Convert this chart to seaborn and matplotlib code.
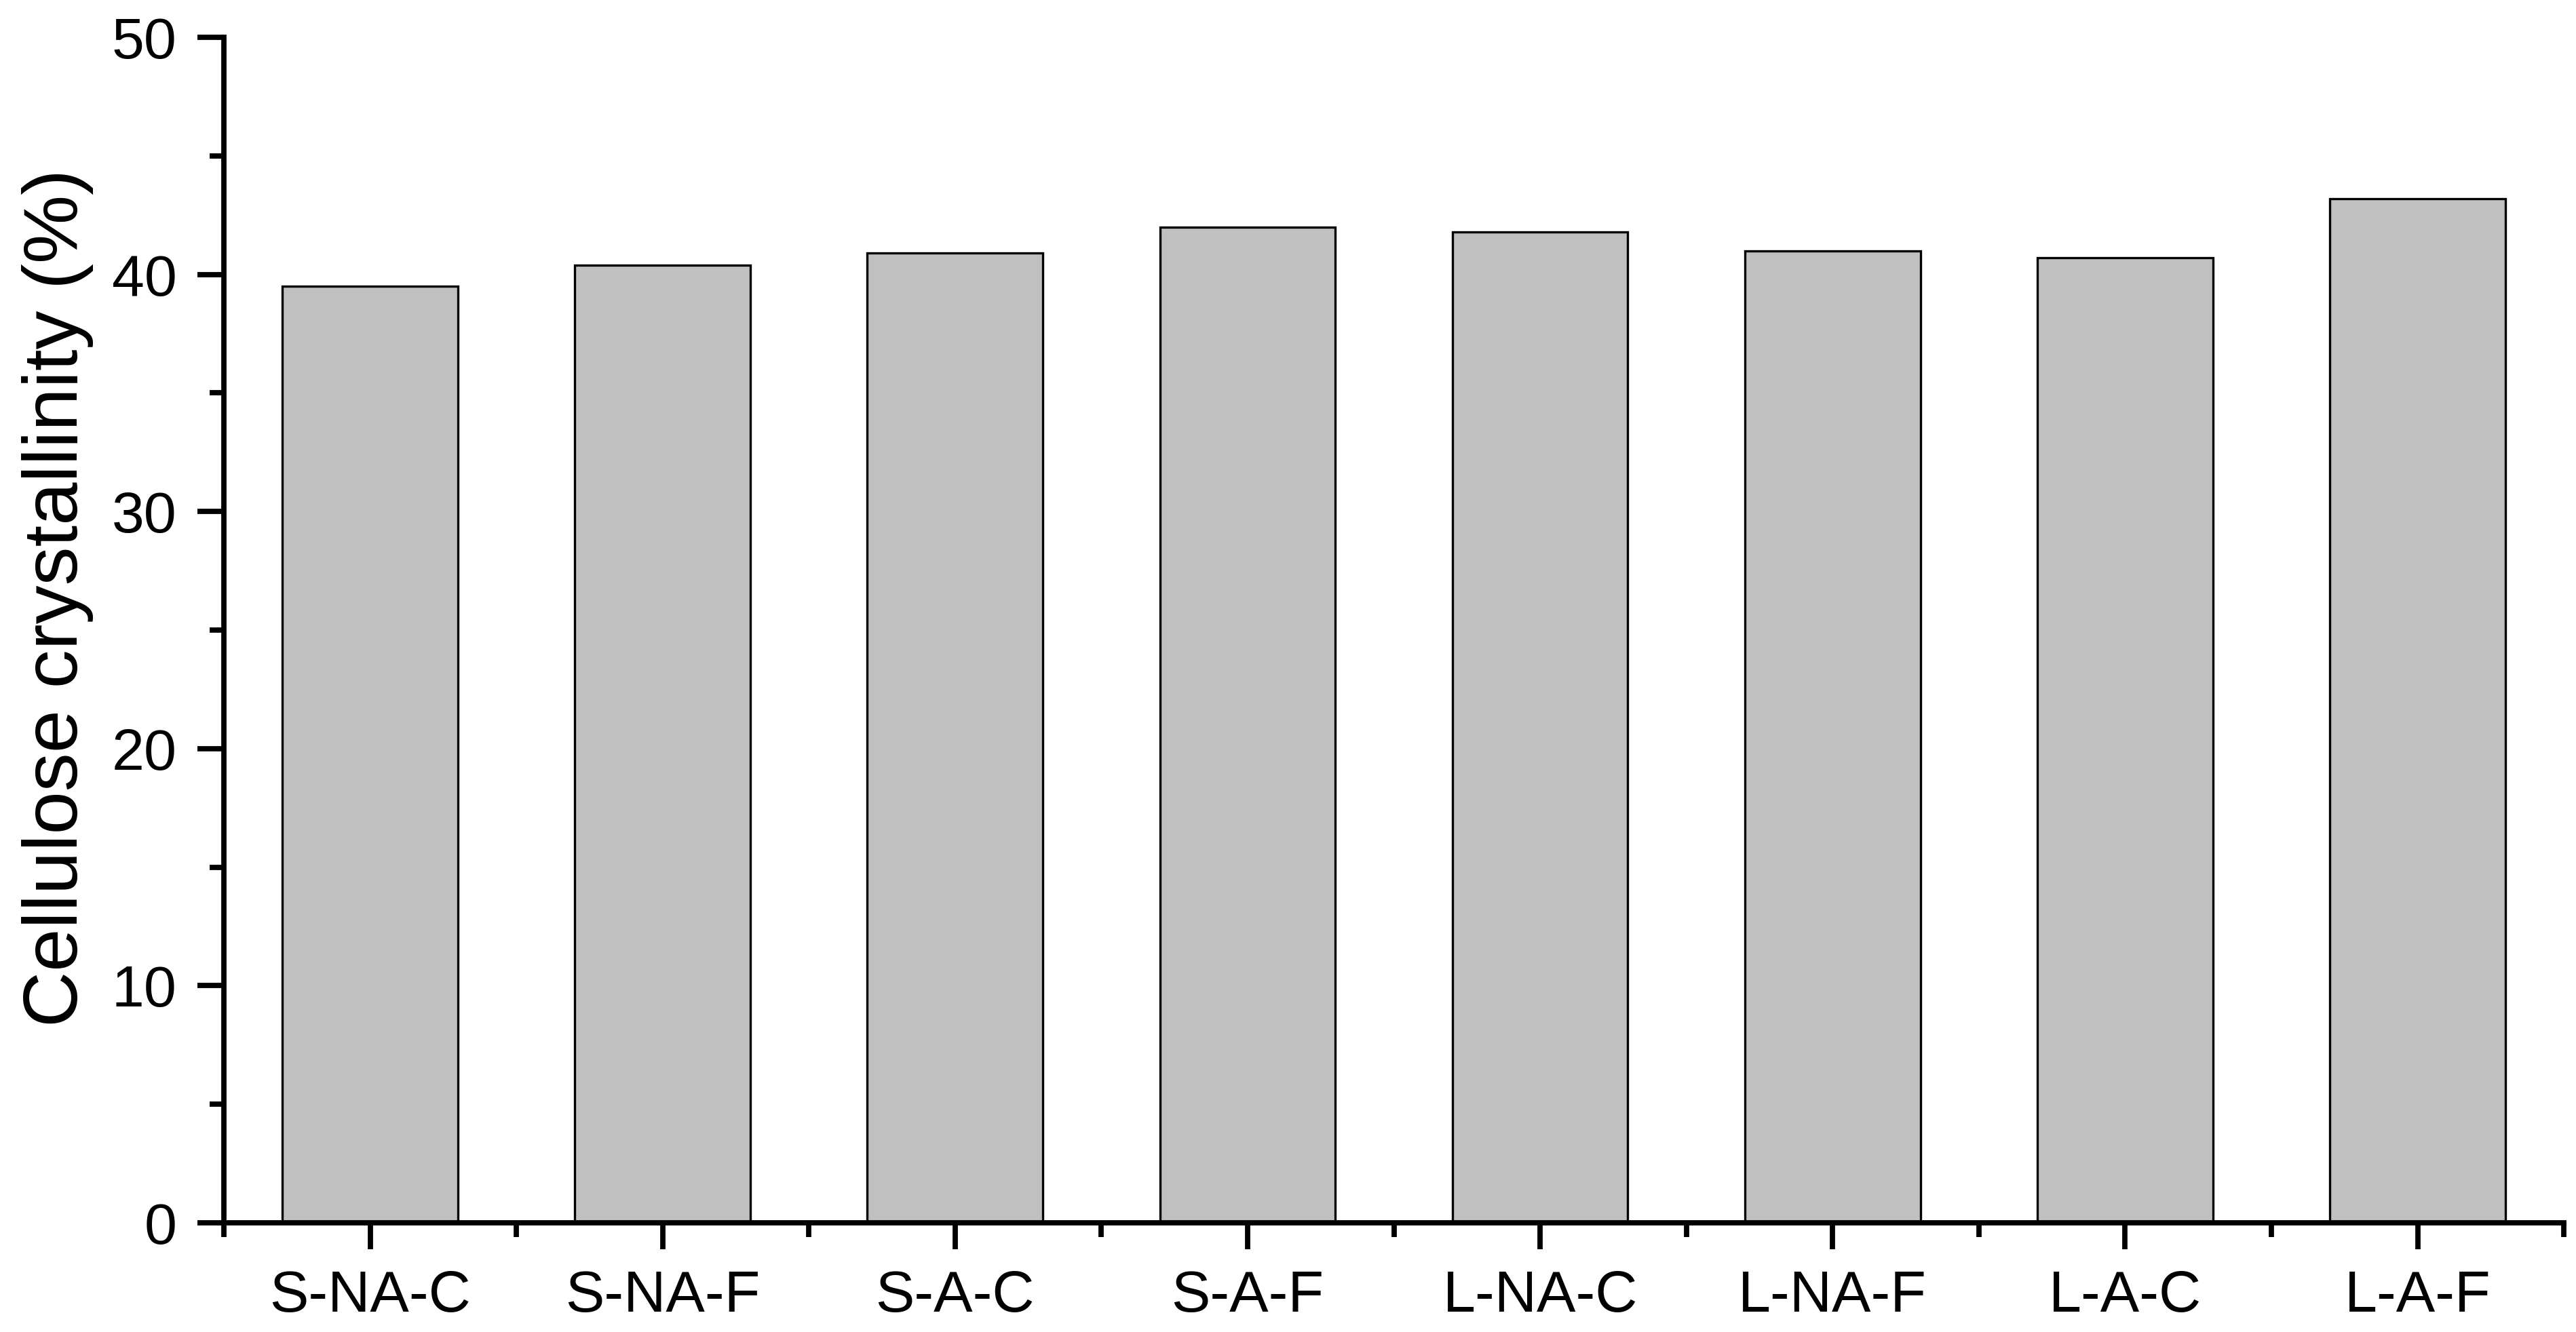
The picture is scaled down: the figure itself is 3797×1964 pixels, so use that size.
import matplotlib
matplotlib.use("Agg")
import matplotlib.pyplot as plt
import seaborn as sns
import pandas as pd
from matplotlib.ticker import MultipleLocator, FixedLocator

samples = ["S-NA-C", "S-NA-F", "S-A-C", "S-A-F", "L-NA-C", "L-NA-F", "L-A-C", "L-A-F"]
crystallinity = [39.5, 40.4, 40.9, 42.0, 41.8, 41.0, 40.7, 43.2]

df = pd.DataFrame({"Sample": samples, "Crystallinity": crystallinity})

sns.set_style("ticks")
plt.rcParams["font.family"] = ["Liberation Sans", "DejaVu Sans"]
plt.rcParams["text.color"] = "black"
plt.rcParams["axes.labelcolor"] = "black"
plt.rcParams["xtick.color"] = "black"
plt.rcParams["ytick.color"] = "black"

fig = plt.figure(figsize=(18.985, 9.82), dpi=200)
ax = fig.add_axes([0.0869, 0.082, 0.9084, 0.890])

sns.barplot(data=df, x="Sample", y="Crystallinity", color="#c0c0c0", saturation=1,
            width=0.6, edgecolor="black", linewidth=1.2, ax=ax)

ax.set_xlim(-0.5, 7.5)
ax.set_ylim(0, 50)
ax.yaxis.set_major_locator(MultipleLocator(10))
ax.yaxis.set_minor_locator(MultipleLocator(5))
ax.xaxis.set_minor_locator(FixedLocator([i + 0.5 for i in range(-1, 8)]))

ax.set_xlabel("")
ax.set_ylabel("Cellulose crystallinity (%)", fontsize=41, color="black")
ax.yaxis.set_label_coords(-0.0557, 0.527)

for s in ["top", "right"]:
    ax.spines[s].set_visible(False)
for s in ["left", "bottom"]:
    ax.spines[s].set_linewidth(2.8)
    ax.spines[s].set_color("black")

ax.tick_params(axis="both", which="major", direction="out", length=14, width=2.8,
               labelsize=31, pad=11, color="black", labelcolor="black")
ax.tick_params(axis="both", which="minor", direction="out", length=7.5, width=2.8,
               color="black")

fig.savefig("out.png", dpi=200, facecolor="white")
